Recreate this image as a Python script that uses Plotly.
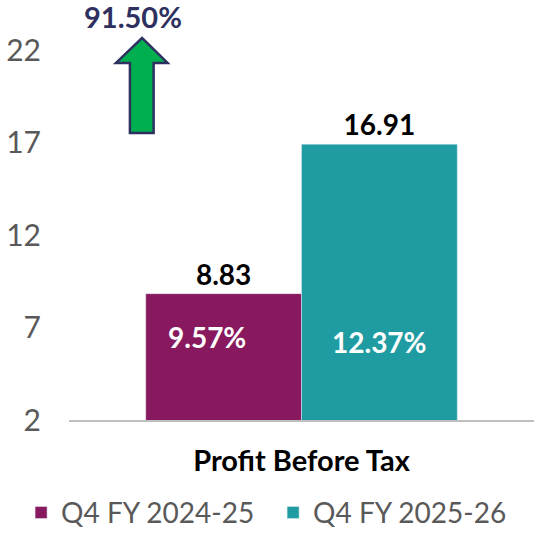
import plotly.graph_objects as go

categories = ["Profit Before Tax"]
series_names = ["Q4 FY 2024-25", "Q4 FY 2025-26"]
values_prev = [8.83]
values_curr = [16.91]
margins_prev = ["9.57%"]
margins_curr = ["12.37%"]
growth_label = "91.50%"
tick_vals = [2, 7, 12, 17, 22]

PURPLE = "#88195E"
TEAL = "#1F9BA2"
NAVY = "#2E3160"
GREEN = "#00B050"
FONT = "Lato"

fig = go.Figure()
fig.add_trace(go.Bar(
    x=categories, y=values_prev, name=series_names[0], marker_color=PURPLE,
    text=[f"{v:.2f}" for v in values_prev], textposition="outside",
    textfont=dict(family=FONT, size=28, color="black", weight="bold"),
    cliponaxis=False,
))
fig.add_trace(go.Bar(
    x=categories, y=values_curr, name=series_names[1], marker_color=TEAL,
    text=[f"{v:.2f}" for v in values_curr], textposition="outside",
    textfont=dict(family=FONT, size=28, color="black", weight="bold"),
    cliponaxis=False,
))

# inside margin labels
fig.add_annotation(x=categories[0], y=6.5, xref="x", yref="y", xshift=-95,
                   text=margins_prev[0], showarrow=False,
                   font=dict(family=FONT, size=28, color="white", weight="bold"))
fig.add_annotation(x=categories[0], y=6.2, xref="x", yref="y", xshift=78,
                   text=margins_curr[0], showarrow=False,
                   font=dict(family=FONT, size=28, color="white", weight="bold"))

# growth arrow
xl, xsl, xc, xsr, xr = 0.101, 0.131, 0.157, 0.182, 0.212
ytop, yhead, ybot = 22.65, 21.3, 17.51
path = (f"M {xc} {ytop} L {xr} {yhead} L {xsr} {yhead} L {xsr} {ybot} "
        f"L {xsl} {ybot} L {xsl} {yhead} L {xl} {yhead} Z")
fig.add_shape(type="path", path=path, xref="paper", yref="y",
              fillcolor=GREEN, line=dict(color=NAVY, width=2.5))
fig.add_annotation(x=0.137, y=23.8, xref="paper", yref="y", text=growth_label,
                   showarrow=False, xanchor="center", yanchor="middle",
                   font=dict(family=FONT, size=29, color=NAVY, weight="bold"))

fig.update_layout(
    width=534, height=533,
    margin=dict(l=69, r=0, t=13, b=113, autoexpand=False),
    paper_bgcolor="white", plot_bgcolor="white",
    barmode="group", bargap=0.33, bargroupgap=0,
    showlegend=True,
    legend=dict(orientation="h", x=-0.103, xanchor="left", y=-0.228,
                yanchor="middle", font=dict(family=FONT, size=28, color="#595959"),
                itemwidth=30, tracegroupgap=0, entrywidth=207,
                bgcolor="rgba(0,0,0,0)"),
    xaxis=dict(showline=True, linecolor="#BFBFBF", linewidth=2, automargin=False,
               ticks="outside", ticklen=14, tickcolor="rgba(0,0,0,0)",
               tickfont=dict(family=FONT, size=29, color="black", weight="bold"),
               showgrid=False),
    yaxis=dict(range=[2, 24], tickvals=tick_vals, showgrid=False, zeroline=False,
               showline=False, ticks="outside", ticklen=21, automargin=False,
               tickcolor="rgba(0,0,0,0)",
               tickfont=dict(family=FONT, size=30, color="#595959")),
)

fig.write_html("out.html", config={"displayModeBar": False},
               post_script="document.body.style.margin='0';")
